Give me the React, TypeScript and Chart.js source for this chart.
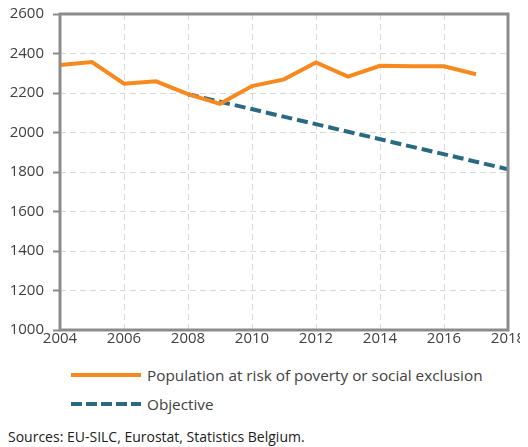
import React, { useEffect, useRef } from "react";
import { Chart, registerables } from "chart.js";

Chart.register(...registerables);

const years = [2004, 2005, 2006, 2007, 2008, 2009, 2010, 2011, 2012, 2013, 2014, 2015, 2016, 2017];
const populationAtRisk = [2342, 2357, 2247, 2259, 2194, 2145, 2235, 2269, 2355, 2283, 2338, 2336, 2335, 2295];
const objectiveYears = [2008, 2018];
const objectiveValues = [2194, 1814];
const xTicks = [2004, 2006, 2008, 2010, 2012, 2014, 2016, 2018];
const yTicks = [1000, 1200, 1400, 1600, 1800, 2000, 2200, 2400, 2600];

const seriesLabels = ["Population at risk of poverty or social exclusion", "Objective"];
const sourceText = "Sources: EU-SILC, Eurostat, Statistics Belgium.";

const ORANGE = "#F7891F";
const TEAL = "#2A6A80";
const AXIS = "#8C8C8C";
const GRID = "#D9D9D9";
const FONT = "'Open Sans', sans-serif";

const framePlugin = {
  id: "frame",
  afterDatasetsDraw(chart: any) {
    const { ctx, chartArea } = chart;
    ctx.save();
    ctx.strokeStyle = AXIS;
    ctx.lineWidth = 3;
    ctx.strokeRect(chartArea.left, chartArea.top, chartArea.right - chartArea.left, chartArea.bottom - chartArea.top);
    ctx.restore();
  },
};

export default function App() {
  const ref = useRef<HTMLCanvasElement | null>(null);
  useEffect(() => {
    if (!ref.current) return;
    const chart = new Chart(ref.current, {
      type: "line",
      data: {
        datasets: [
          {
            label: seriesLabels[0],
            data: years.map((y, i) => ({ x: y, y: populationAtRisk[i] })),
            borderColor: ORANGE,
            borderWidth: 4,
            pointRadius: 0,
            tension: 0,
            fill: false,
          },
          {
            label: seriesLabels[1],
            data: objectiveYears.map((y, i) => ({ x: y, y: objectiveValues[i] })),
            borderColor: TEAL,
            borderWidth: 4,
            borderDash: [11, 5],
            pointRadius: 0,
            tension: 0,
            fill: false,
          },
        ],
      },
      options: {
        animation: false,
        responsive: false,
        maintainAspectRatio: false,
        layout: { padding: { top: 0, right: 20, left: 0, bottom: 0 } },
        plugins: { legend: { display: false }, tooltip: { enabled: false } },
        scales: {
          x: {
            type: "linear",
            min: 2004,
            max: 2018,
            afterBuildTicks: (s: any) => {
              s.ticks = xTicks.map((v) => ({ value: v }));
            },
            afterFit: (s: any) => {
              s.height = 28;
            },
            ticks: {
              color: "#404040",
              font: { family: FONT, size: 15 },
              padding: 0,
              maxRotation: 0,
              callback: (v: any) => String(v),
            },
            grid: {
              color: GRID,
              borderDash: [6, 4],
              drawTicks: false,
              lineWidth: 1,
            },
            border: { display: false, dash: [6, 4] },
          },
          y: {
            min: 1000,
            max: 2600,
            afterBuildTicks: (s: any) => {
              s.ticks = yTicks.map((v) => ({ value: v }));
            },
            afterFit: (s: any) => {
              s.width = 52;
            },
            ticks: {
              color: "#404040",
              font: { family: FONT, size: 15 },
              padding: 9,
              callback: (v: any) => String(v),
            },
            grid: {
              color: GRID,
              lineWidth: 1,
              drawTicks: true,
              tickLength: 7,
              tickColor: AXIS,
              tickWidth: 2,
            },
            border: { display: false, dash: [6, 4] },
          },
        },
      },
      plugins: [framePlugin],
    } as any);
    return () => chart.destroy();
  }, []);

  const legendText: React.CSSProperties = {
    fontFamily: FONT,
    fontSize: 15.3,
    color: "#404040",
    marginLeft: 6,
    whiteSpace: "nowrap",
  };

  return (
    <div style={{ position: "relative", width: 512, height: 439 }}>
      <canvas
        ref={ref}
        width={520}
        height={362}
        style={{ display: "block", position: "absolute", left: 0, top: -12 }}
      />
      <div style={{ position: "absolute", left: 63, top: 357, display: "flex", alignItems: "center" }}>
        <div style={{ width: 70, height: 4, background: ORANGE }} />
        <span style={legendText}>{seriesLabels[0]}</span>
      </div>
      <div style={{ position: "absolute", left: 63, top: 386, display: "flex", alignItems: "center" }}>
        <div
          style={{
            width: 70,
            height: 4,
            background: `repeating-linear-gradient(to right, ${TEAL} 0 11px, transparent 11px 15px)`,
          }}
        />
        <span style={legendText}>{seriesLabels[1]}</span>
      </div>
      <div
        style={{
          position: "absolute",
          left: 0,
          top: 420,
          fontFamily: FONT,
          fontSize: 14,
          lineHeight: "18px",
          color: "#202020",
          whiteSpace: "nowrap",
        }}
      >
        {sourceText}
      </div>
    </div>
  );
}
